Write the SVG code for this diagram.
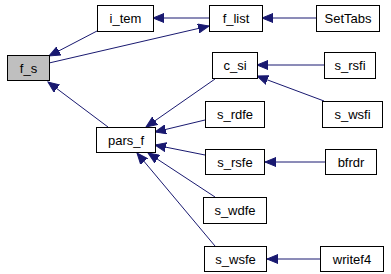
<svg xmlns="http://www.w3.org/2000/svg" width="391" height="274" viewBox="0 0 391 274">
<defs>
<style>
.n rect{fill:#ffffff;stroke:#000000;stroke-width:1}
.n text{font-family:"Liberation Sans",Arial,sans-serif;font-size:13px;fill:#000000;text-anchor:middle}
.e path{fill:none;stroke:#191970;stroke-width:1}
</style>
<marker id="ah" markerUnits="userSpaceOnUse" markerWidth="12" markerHeight="10" viewBox="0 0 12 10" refX="11" refY="5" orient="auto">
<polygon points="0,0.5 11,5 0,9.5" fill="#191970" stroke="#191970" stroke-width="1"/>
</marker>
</defs>
<rect x="0" y="0" width="391" height="274" fill="#ffffff"/>
<g id="edges" class="e">
<path d="M97,31 L49,56" marker-end="url(#ah)"/>
<path d="M49,63 L209,26" marker-end="url(#ah)"/>
<path d="M209,18 L153,18" marker-end="url(#ah)"/>
<path d="M316,18 L262,18" marker-end="url(#ah)"/>
<path d="M108,127 L48,82" marker-end="url(#ah)"/>
<path d="M215,79 L146,127" marker-end="url(#ah)"/>
<path d="M205,120 L155,132" marker-end="url(#ah)"/>
<path d="M205,155 L155,145" marker-end="url(#ah)"/>
<path d="M215,197 L148,153" marker-end="url(#ah)"/>
<path d="M215,246 L137,153" marker-end="url(#ah)"/>
<path d="M324,65 L257,65" marker-end="url(#ah)"/>
<path d="M324,101 L257,76" marker-end="url(#ah)"/>
<path d="M325,162 L265,162" marker-end="url(#ah)"/>
<path d="M320,259 L267,259" marker-end="url(#ah)"/>
</g>
<g id="f_s" class="n"><rect x="7.5" y="55.5" width="42" height="25" style="fill:#bfbfbf"/><text x="28.5" y="72.5">f_s</text></g>
<g id="i_tem" class="n"><rect x="97.5" y="5.5" width="56" height="26"/><text x="125.5" y="23">i_tem</text></g>
<g id="f_list" class="n"><rect x="209.5" y="5.5" width="53" height="26"/><text x="236" y="23">f_list</text></g>
<g id="SetTabs" class="n"><rect x="316.5" y="5.5" width="63" height="26"/><text x="348" y="23">SetTabs</text></g>
<g id="c_si" class="n"><rect x="212.5" y="52.5" width="45" height="26"/><text x="235" y="70">c_si</text></g>
<g id="s_rsfi" class="n"><rect x="324.5" y="52.5" width="51" height="26"/><text x="350" y="70">s_rsfi</text></g>
<g id="s_rdfe" class="n"><rect x="205.5" y="101.5" width="59" height="26"/><text x="235" y="119">s_rdfe</text></g>
<g id="s_wsfi" class="n"><rect x="322.5" y="101.5" width="60" height="26"/><text x="352.5" y="119">s_wsfi</text></g>
<g id="pars_f" class="n"><rect x="96.5" y="127.5" width="59" height="25"/><text x="126" y="144.5">pars_f</text></g>
<g id="s_rsfe" class="n"><rect x="205.5" y="149.5" width="59" height="25"/><text x="235" y="166.5">s_rsfe</text></g>
<g id="bfrdr" class="n"><rect x="325.5" y="149.5" width="51" height="25"/><text x="351" y="166.5">bfrdr</text></g>
<g id="s_wdfe" class="n"><rect x="203.5" y="197.5" width="63" height="26"/><text x="235" y="215">s_wdfe</text></g>
<g id="s_wsfe" class="n"><rect x="204.5" y="246.5" width="62" height="25"/><text x="235.5" y="263.5">s_wsfe</text></g>
<g id="writef4" class="n"><rect x="320.5" y="246.5" width="63" height="25"/><text x="352" y="263.5">writef4</text></g>
</svg>
